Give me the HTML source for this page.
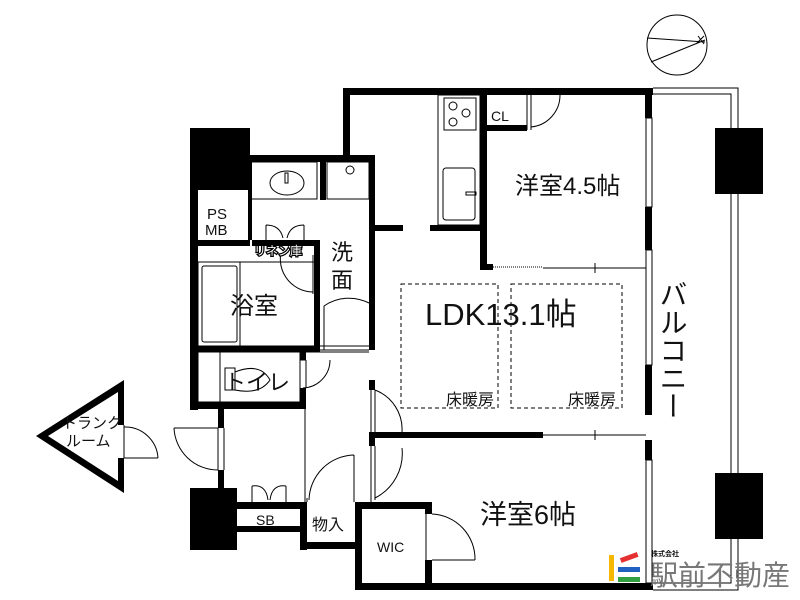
<!DOCTYPE html>
<html><head><meta charset="utf-8"><style>html,body{margin:0;padding:0;background:#fff}svg{display:block}text{font-family:"Liberation Sans","Noto Sans CJK JP",sans-serif;fill:#111}</style></head><body>
<svg width="800" height="600" viewBox="0 0 800 600" xmlns="http://www.w3.org/2000/svg">
<g fill="#000">
<rect x="343" y="88" width="310" height="7"/>
<rect x="343" y="88" width="7" height="72"/>
<rect x="645" y="88" width="7" height="30"/>
<rect x="645" y="207" width="7" height="43"/>
<rect x="645" y="365" width="7" height="50"/>
<rect x="645" y="440" width="7" height="20"/>
<rect x="355" y="583" width="298" height="7"/>
<rect x="355" y="502" width="7" height="88"/>
<rect x="355" y="502" width="77" height="7"/>
<rect x="425" y="502" width="7" height="12"/>
<rect x="425" y="560" width="7" height="30"/>
<rect x="190" y="128" width="60" height="62"/>
<rect x="190" y="128" width="8" height="282"/>
<rect x="248" y="155" width="127" height="7"/>
<rect x="369" y="155" width="6" height="195"/>
<rect x="320" y="162" width="6" height="38"/>
<rect x="375" y="225" width="28" height="6"/>
<rect x="198" y="240" width="52" height="6"/>
<rect x="248" y="162" width="4" height="84"/>
<rect x="250" y="240" width="70" height="5"/>
<rect x="314" y="240" width="6" height="112"/>
<rect x="198" y="346" width="122" height="6"/>
<rect x="190" y="402" width="116" height="7"/>
<rect x="300" y="352" width="6" height="8"/>
<rect x="300" y="388" width="6" height="20"/>
<rect x="218" y="408" width="6" height="20"/>
<rect x="218" y="470" width="6" height="20"/>
<rect x="190" y="488" width="47" height="62"/>
<rect x="237" y="502" width="66" height="7"/>
<rect x="237" y="526" width="66" height="6"/>
<rect x="300" y="502" width="7" height="48"/>
<rect x="300" y="542" width="60" height="7"/>
<rect x="369" y="380" width="6" height="10"/>
<rect x="369" y="432" width="6" height="14"/>
<rect x="480" y="88" width="7" height="182"/>
<rect x="480" y="264" width="13" height="6"/>
<rect x="487" y="125" width="40" height="6"/>
<rect x="372" y="432" width="171" height="6"/>
<rect x="430" y="225" width="52" height="6"/>
<rect x="715" y="128" width="48" height="66"/>
<rect x="715" y="473" width="48" height="66"/>
<polygon points="36,436 124,380 124,493" />
</g>
<polygon points="48,436 118,392 118,481" fill="#fff"/>
<rect x="118" y="425" width="6" height="33" fill="#fff"/>
<g fill="none" stroke="#000" stroke-width="1">
<rect x="646" y="118" width="6" height="89"/>
<rect x="646" y="250" width="6" height="115"/>
<rect x="646" y="460" width="6" height="123"/>
<path d="M653 88 H738 V590 H653"/>
<path d="M653 94 H731 V583 H653"/>
<path d="M543 268 H646 M595 263 V273"/>
<path d="M543 435 H646 M595 430 V440"/>
<line x1="493" y1="267" x2="543" y2="267" stroke-dasharray="1 1"/>
<circle cx="677" cy="45" r="30"/>
<path d="M647 38 L705 42 M651 62 L705 40 M698 36 L704 44 M696 44 L704 36"/>
<rect x="401" y="284" width="97" height="124" stroke-dasharray="4 3"/>
<rect x="511" y="284" width="111" height="124" stroke-dasharray="4 3"/>
<rect x="438" y="95" width="42" height="130"/>
<rect x="444" y="98" width="32" height="32"/>
<circle cx="453" cy="106" r="4"/><circle cx="466" cy="113" r="4"/><circle cx="453" cy="122" r="4"/>
<rect x="443" y="168" width="32" height="52" rx="3"/>
<rect x="466" y="192" width="10" height="3"/>
<path d="M527 95 V130 M531 95 V130 M531 127 A32 32 0 0 0 560 95"/>
<rect x="251" y="162" width="66" height="37"/>
<ellipse cx="287" cy="183" rx="17" ry="12"/>
<rect x="285" y="173" width="3" height="10"/>
<rect x="327" y="162" width="42" height="37"/>
<circle cx="350" cy="170" r="4"/>
<path d="M266 225 V240 M304 225 V240 M266 225 Q280 225 283 238 M304 225 Q290 225 287 238"/>
<rect x="198" y="262" width="118" height="84"/>
<rect x="202" y="266" width="35" height="76" rx="2"/>
<path d="M240 262 V346"/>
<path d="M313 246 V294 M283 246 A33 33 0 0 0 313 292"/>
<path d="M324 350 V306 M324 306 A44 44 0 0 1 369 303"/>
<path d="M320 346 H369 M320 350 H369"/>
<rect x="198" y="352" width="102" height="50"/>
<path d="M220 352 V402"/>
<rect x="225" y="368" width="10" height="22"/>
<path d="M235 372 Q260 362 270 380 Q260 395 235 390"/>
<path d="M306 360 V388 M303 388 A28 28 0 0 0 330 360"/>
<path d="M305 409 V502 M306 352 H369 M300 360 H306"/>
<path d="M218 428 V470 M224 428 V470 M174 428 H218 M174 428 A44 44 0 0 0 218 470"/>
<path d="M124 425 V458 M124 458 H158 M124 427 A33 33 0 0 1 158 458"/>
<path d="M252 486 V502 M286 486 V502 M252 486 Q266 484 268 500 M286 486 Q272 484 270 500"/>
<path d="M307 502 V498 M354 455 V502 M309 500 A46 46 0 0 1 354 455"/>
<path d="M375 390 V432 M375 390 A42 42 0 0 1 402 432"/>
<path d="M375 446 V500 M375 498 A50 50 0 0 0 402 448"/>
<path d="M371 390 V432 M371 446 V502"/>
<path d="M426 514 V560 M432 514 A45 45 0 0 1 475 560 M432 560 H475"/>
</g>
<rect x="250" y="240" width="64" height="15" fill="#fff"/>
<rect x="252" y="240" width="62" height="6" fill="#000"/>
<g>
<text x="207" y="219" font-size="15">PS</text>
<text x="205" y="235" font-size="15">MB</text>
<text x="254" y="255" font-size="12" style="fill:#fff;stroke:#000;stroke-width:2.5;paint-order:stroke">リネン庫</text>
<text x="331" y="260" font-size="22">洗</text>
<text x="331" y="288" font-size="22">面</text>
<text x="230" y="314" font-size="24">浴室</text>
<text x="224" y="390" font-size="22">トイレ</text>
<text x="62" y="428" font-size="15">トランク</text>
<text x="66" y="446" font-size="15">ルーム</text>
<text x="256" y="525" font-size="14">SB</text>
<text x="312" y="530" font-size="16">物入</text>
<text x="377" y="552" font-size="14">WIC</text>
<text x="491" y="121" font-size="14">CL</text>
<text x="515" y="194" font-size="24">洋室4.5帖</text>
<text x="425" y="325" font-size="31">LDK13.1帖</text>
<text x="446" y="405" font-size="16">床暖房</text>
<text x="568" y="405" font-size="16">床暖房</text>
<text x="480" y="524" font-size="27">洋室6帖</text>
<text x="672" y="280" font-size="28" writing-mode="tb">バルコニー</text>
<text x="651" y="556" font-size="7" font-weight="bold">株式会社</text>
<text x="650" y="585" font-size="28" style="fill:#777">駅前不動産</text>
</g>
<rect x="609" y="555" width="5" height="26" fill="#f5b700"/>
<rect x="620" y="555" width="18" height="5" fill="#e43030" transform="rotate(-20 629 557)"/>
<rect x="618" y="567" width="22" height="5" fill="#2060c0"/>
<rect x="618" y="577" width="22" height="5" fill="#30a040"/>
</svg>
</body></html>
